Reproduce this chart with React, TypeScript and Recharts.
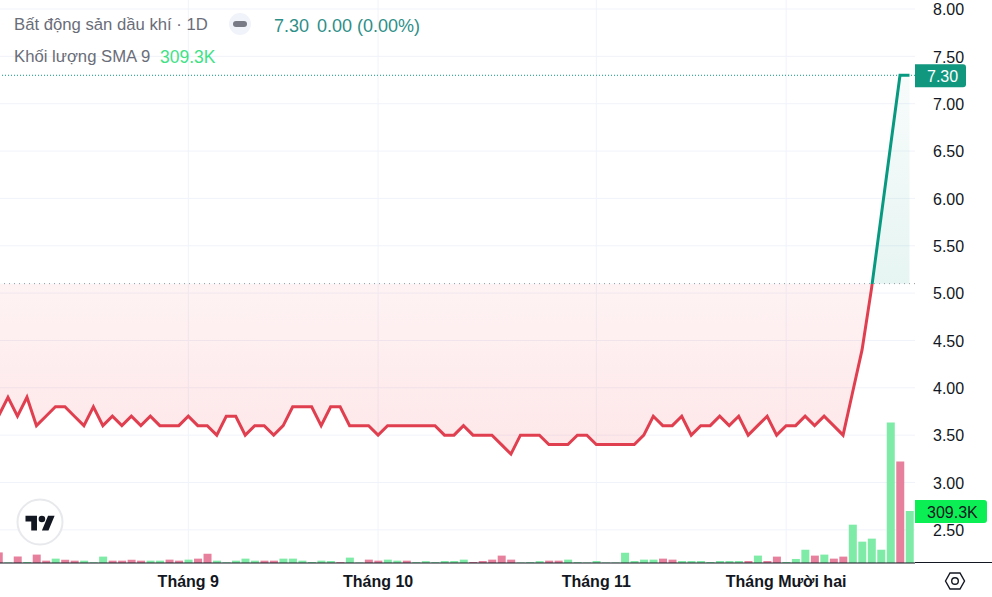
import { Area, Bar, CartesianGrid, Cell, ComposedChart, ReferenceLine, XAxis, YAxis } from 'recharts';

// one value per trading day, first one sits just off the left edge
const prices = [
    3.7, 3.9, 3.7, 3.9, 3.6, 3.7, 3.8, 3.8, 3.7, 3.6, 3.8, 3.6, 3.7, 3.6, 3.7, 3.6,
    3.7, 3.6, 3.6, 3.6, 3.7, 3.6, 3.6, 3.5, 3.7, 3.7, 3.5, 3.6, 3.6, 3.5, 3.6, 3.8,
    3.8, 3.8, 3.6, 3.8, 3.8, 3.6, 3.6, 3.6, 3.5, 3.6, 3.6, 3.6, 3.6, 3.6, 3.6, 3.5,
    3.5, 3.6, 3.5, 3.5, 3.5, 3.4, 3.3, 3.5, 3.5, 3.5, 3.4, 3.4, 3.4, 3.5, 3.5, 3.4,
    3.4, 3.4, 3.4, 3.4, 3.5, 3.7, 3.6, 3.6, 3.7, 3.5, 3.6, 3.6, 3.7, 3.6, 3.7, 3.5,
    3.6, 3.7, 3.5, 3.6, 3.6, 3.7, 3.6, 3.7, 3.6, 3.5, 3.95, 4.4, 5.05, 5.8, 6.55, 7.3, 7.3,
];

const volumes = [
    63, 3, 38, 6, 50, 14, 26, 20, 14, 14, 4, 38, 14, 14, 20, 14,
    14, 14, 20, 14, 20, 26, 55, 14, 4, 14, 26, 14, 14, 14, 26, 26,
    14, 6, 14, 12, 5, 32, 3, 20, 14, 20, 14, 14, 5, 11, 5, 12,
    12, 20, 6, 12, 20, 44, 20, 3, 5, 11, 14, 14, 20, 5, 3, 12,
    3, 3, 61, 12, 20, 20, 26, 20, 12, 12, 12, 6, 12, 12, 12, 12,
    44, 12, 38, 6, 24, 79, 44, 50, 26, 38, 228, 127, 145, 79, 836, 604, 309.3,
];

// 1 = green volume bar, 0 = red
const volumeUp = [
    0, 1, 0, 1, 0, 0, 1, 0, 0, 1, 1, 1, 0, 0, 0, 0,
    1, 1, 0, 0, 1, 0, 0, 1, 1, 1, 1, 1, 0, 0, 1, 1,
    1, 1, 1, 1, 0, 1, 1, 0, 0, 1, 1, 0, 1, 1, 1, 1,
    1, 1, 0, 0, 0, 0, 0, 1, 1, 1, 0, 0, 1, 1, 1, 1,
    1, 1, 1, 1, 1, 1, 0, 0, 1, 1, 1, 1, 1, 1, 1, 0,
    1, 0, 0, 1, 1, 1, 0, 1, 0, 0, 1, 1, 1, 1, 1, 0, 1,
];

const monthTicks = [20, 40, 63, 83];
const monthLabels = ['Tháng 9', 'Tháng 10', 'Tháng 11', 'Tháng Mười hai'];
const priceTicks = [2.5, 3, 3.5, 4, 4.5, 5, 5.5, 6, 6.5, 7, 7.5, 8];

const baseline = 5.1;
const lastPrice = 7.3;
const lastVolume = 309.3;

const TEAL = '#089981';
const RED = '#e03f4f';
const BAR_GREEN = '#7eeba6';
const BAR_RED = '#e7809c';
const FONT = '"Liberation Sans", Arial, sans-serif';

const data = prices.map((price, i) => ({ i, price, volume: volumes[i], up: volumeUp[i] }));

const maxPrice = Math.max(...prices);
const minPrice = Math.min(...prices);
const split = ((maxPrice - baseline) / (maxPrice - minPrice)) * 100 + '%';

function PriceTag({ viewBox, text, bg, color, width }: any) {
    const y = viewBox.y;
    const x = viewBox.x + viewBox.width;
    return (
        <g>
            <path
                d={`M${x} ${y - 11}h${width - 3}a3 3 0 0 1 3 3v17a3 3 0 0 1 -3 3h-${width - 3}z`}
                fill={bg}
            />
            <text x={x + 12} y={y + 6.5} fill={color} fontSize={16} fontFamily={FONT}>
                {text}
            </text>
        </g>
    );
}

function Legend() {
    const base = { position: 'absolute', whiteSpace: 'nowrap', fontFamily: FONT, fontSize: 16.7, lineHeight: '20px' } as const;
    return (
        <>
            <div style={{ ...base, left: 14, top: 15, color: '#6a6d78' }}>Bất động sản dầu khí · 1D</div>
            <div style={{ position: 'absolute', left: 229, top: 13, width: 22, height: 22, borderRadius: 11, background: '#f0f3fa' }}>
                <div style={{ position: 'absolute', left: 4, top: 8, width: 14, height: 6, borderRadius: 3, background: '#787b86' }} />
            </div>
            <div style={{ ...base, left: 274, top: 16, color: '#2e8f88', fontSize: 18 }}>7.30</div>
            <div style={{ ...base, left: 317, top: 16, color: '#2e8f88', fontSize: 18 }}>0.00 (0.00%)</div>
            <div style={{ ...base, left: 14, top: 47, color: '#6a6d78' }}>Khối lượng SMA 9</div>
            <div style={{ ...base, left: 160, top: 47, color: '#3fe286', fontSize: 17.5, fontWeight: 500 }}>309.3K</div>
        </>
    );
}

function Overlays() {
    return (
        <>
            {/* pane border continues under the price scale */}
            <div style={{ position: 'absolute', left: 915, top: 562, width: 77, height: 1, background: '#131722' }} />
            <svg style={{ position: 'absolute', left: 16, top: 498 }} width={48} height={48}>
                <circle cx={24} cy={24} r={22.5} fill="#fff" stroke="#e8e9ec" strokeWidth={2} />
                <g transform="translate(9.5 14.5) scale(0.82)" fill="#131722">
                    <path d="M14 22H7V11H0V4h14v18zM28 22h-8l7.5-18h8L28 22z" />
                    <circle cx={20} cy={8} r={4} />
                </g>
            </svg>
            <svg style={{ position: 'absolute', left: 943, top: 570 }} width={24} height={22}>
                <path d="M2.5 11L7 3h10l4.5 8L17 19H7z" fill="none" stroke="#131722" strokeWidth={1.4} />
                <circle cx={12} cy={11} r={3.3} fill="none" stroke="#131722" strokeWidth={1.4} />
            </svg>
        </>
    );
}

export default function App() {
    return (
        <div style={{ position: 'relative', width: 992, height: 597, background: '#fff', overflow: 'hidden' }}>
            <style>{'body{margin:0}'}</style>
            <ComposedChart width={992} height={597} data={data} margin={{ top: 0, right: 0, bottom: 0, left: 0 }}>
                <defs>
                    <linearGradient id="baselineFill" x1="0" y1="0" x2="0" y2="1">
                        <stop offset="0%" stopColor={TEAL} stopOpacity={0.03} />
                        <stop offset={split} stopColor={TEAL} stopOpacity={0.1} />
                        <stop offset={split} stopColor="#f23645" stopOpacity={0.06} />
                        <stop offset="100%" stopColor="#f23645" stopOpacity={0.12} />
                    </linearGradient>
                    <linearGradient id="baselineStroke" x1="0" y1="0" x2="0" y2="1">
                        <stop offset={split} stopColor={TEAL} />
                        <stop offset={split} stopColor={RED} />
                    </linearGradient>
                </defs>
                <CartesianGrid yAxisId="price" stroke="#f0f3fa" strokeWidth={1} syncWithTicks />
                <XAxis
                    dataKey="i"
                    type="number"
                    domain={[0.158, 96.58]}
                    allowDataOverflow
                    ticks={monthTicks}
                    interval={0}
                    height={34}
                    tickLine={false}
                    axisLine={{ stroke: '#131722', strokeWidth: 1 }}
                    tickMargin={7}
                    tickFormatter={(v: number) => monthLabels[monthTicks.indexOf(v)]}
                    tick={{ fill: '#131722', fontSize: 16, fontWeight: 700, fontFamily: FONT }}
                />
                <YAxis
                    yAxisId="price"
                    orientation="right"
                    width={77}
                    domain={[2.15, 8.095]}
                    allowDataOverflow
                    ticks={priceTicks}
                    interval={0}
                    axisLine={false}
                    tickLine={false}
                    tickMargin={12}
                    tickFormatter={(v: number) => v.toFixed(2)}
                    tick={{ fill: '#131722', fontSize: 16, fontFamily: FONT, textAnchor: 'start', dy: 0.5 }}
                />
                <YAxis yAxisId="volume" hide domain={[0, 3350]} allowDataOverflow />
                <Bar yAxisId="volume" dataKey="volume" barSize={8} isAnimationActive={false}>
                    {data.map((d) => (
                        <Cell key={`vol-${d.i}`} fill={d.up ? BAR_GREEN : BAR_RED} />
                    ))}
                </Bar>
                <Area
                    yAxisId="price"
                    dataKey="price"
                    type="linear"
                    baseValue={baseline}
                    fill="url(#baselineFill)"
                    fillOpacity={1}
                    stroke="url(#baselineStroke)"
                    strokeWidth={3}
                    dot={false}
                    activeDot={false}
                    isAnimationActive={false}
                />
                <ReferenceLine yAxisId="price" y={baseline} stroke="#9598a1" strokeDasharray="1 4" />
                <ReferenceLine
                    yAxisId="price"
                    y={lastPrice}
                    stroke={TEAL}
                    strokeDasharray="1 2"
                    label={<PriceTag text={lastPrice.toFixed(2)} bg="#12977f" color="#fff" width={51} />}
                />
                <ReferenceLine
                    yAxisId="volume"
                    y={lastVolume}
                    stroke="none"
                    label={<PriceTag text={`${lastVolume}K`} bg="#0bef55" color="#131722" width={72} />}
                />
            </ComposedChart>
            <Legend />
            <Overlays />
        </div>
    );
}
